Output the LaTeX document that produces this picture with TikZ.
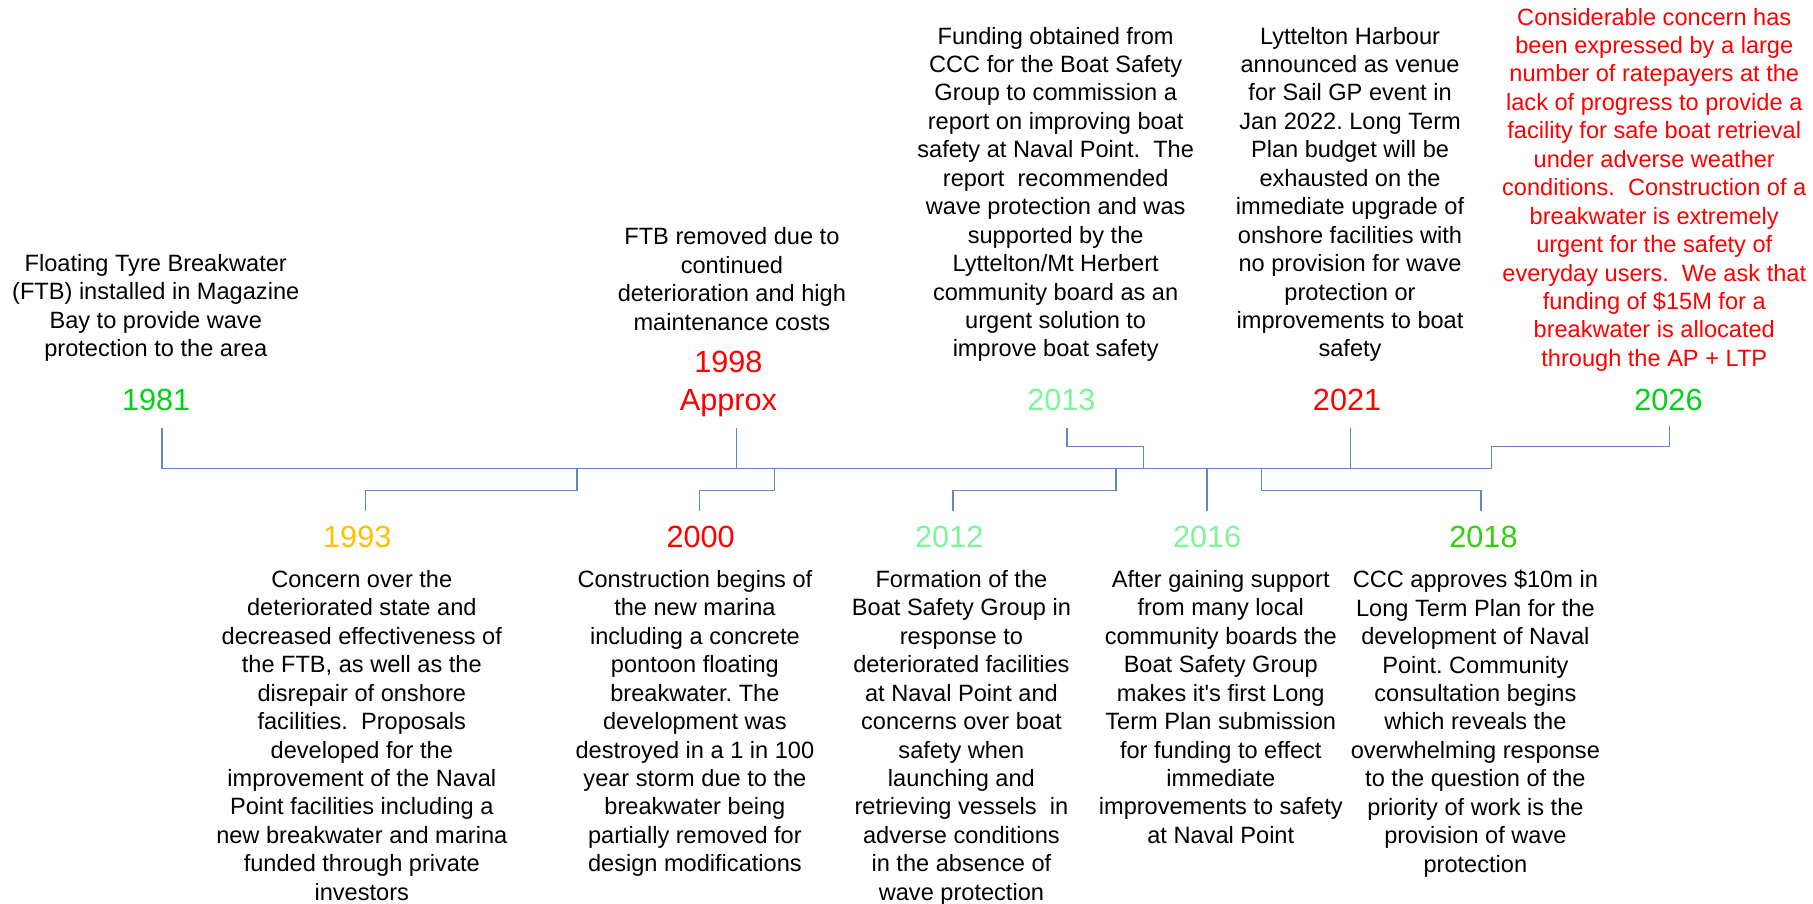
\documentclass[tikz,border=0pt]{standalone}
\usepackage{fontspec}
\setmainfont{Liberation Sans}
\usepackage{xcolor}
\usepackage{tikz}
\definecolor{axis}{HTML}{5E88C0}
\definecolor{hot}{HTML}{FF0000}
\definecolor{grn}{HTML}{00D21A}
\definecolor{lime}{HTML}{33D00A}
\definecolor{mint}{HTML}{7EF59A}
\definecolor{gold}{HTML}{FFC000}
\tikzset{
  tl/.style={draw=axis, line width=1.3pt, line cap=butt, line join=miter},
  yr/.style={font=\fontsize{26.5}{33}\selectfont, inner sep=0pt},
  txt/.style={font=\fontsize{20.4}{24.6}\selectfont, align=center, inner sep=0pt, anchor=north},
}
\frenchspacing
\begin{document}
\begin{tikzpicture}[x=1pt,y=-1pt]
  \fill[white] (0,0) rectangle (1568,781);
  \useasboundingbox (0,0) rectangle (1568,781);
  % top ends, bottom ends and points on the main line
  \coordinate (a1981) at (140,370);
  \coordinate (m1981) at (140,405);
  \coordinate (k2026) at (1290,386);
  \coordinate (a2026) at (1444,368);
  \coordinate (m1993) at (499,405);
  \coordinate (a1993) at (316,442);
  \coordinate (a1998) at (637,370);
  \coordinate (m1998) at (637,405);
  \coordinate (m2000) at (670,405);
  \coordinate (a2000) at (605,442);
  \coordinate (a2013) at (923,370);
  \coordinate (m2013) at (989,405);
  \coordinate (m2012) at (965,405);
  \coordinate (a2012) at (824,442);
  \coordinate (m2016) at (1044,405);
  \coordinate (a2016) at (1044,442);
  \coordinate (a2021) at (1168,370);
  \coordinate (m2021) at (1168,405);
  \coordinate (m2018) at (1091,405);
  \coordinate (a2018) at (1281,442);
  \draw[tl] (a1981) -- (m1981) -| (k2026) -| (a2026);
  \draw[tl] (m1993) -- ++(0,19) -| (a1993);
  \draw[tl] (a1998) -- (m1998);
  \draw[tl] (m2000) -- ++(0,19) -| (a2000);
  \draw[tl] (a2013) -- ++(0,16) -| (m2013);
  \draw[tl] (m2012) -- ++(0,19) -| (a2012);
  \draw[tl] (m2016) -- (a2016);
  \draw[tl] (a2021) -- (m2021);
  \draw[tl] (m2018) -- ++(0,19) -| (a2018);
  % years
  \node[yr, text=grn] (y1981) at (135,346) {1981};
  \node[yr, text=hot, align=center, anchor=north] (y1998) at (630,303.5) {1998\\Approx};
  \node[yr, text=mint] (y2013) at (918,346) {2013};
  \node[yr, text=hot] (y2021) at (1165,346) {2021};
  \node[yr, text=grn] (y2026) at (1443,346) {2026};
  \node[yr, text=gold] (y1993) at (309,464) {1993};
  \node[yr, text=hot] (y2000) at (606,464) {2000};
  \node[yr, text=mint] (y2012) at (821,464) {2012};
  \node[yr, text=mint] (y2016) at (1044,464) {2016};
  \node[yr, text=lime] (y2018) at (1283,464) {2018};
  % events above the line
  \node[txt] (t1981) at (134.7,219.8) {Floating Tyre Breakwater\\(FTB) installed in Magazine\\Bay to provide wave\\protection to the area};
  \node[txt] (t1998) at (633,196.8) {FTB removed due to\\continued\\deterioration and high\\maintenance costs};
  \node[txt] (t2013) at (913,23.1) {Funding obtained from\\CCC for the Boat Safety\\Group to commission a\\report on improving boat\\safety at Naval Point.\ \ The\\report\ \ recommended\\wave protection and was\\supported by the\\Lyttelton/Mt Herbert\\community board as an\\urgent solution to\\improve boat safety};
  \node[txt] (t2021) at (1167.6,23.1) {Lyttelton Harbour\\announced as venue\\for Sail GP event in\\Jan 2022. Long Term\\Plan budget will be\\exhausted on the\\immediate upgrade of\\onshore facilities with\\no provision for wave\\protection or\\improvements to boat\\safety};
  \node[txt, text=hot] (t2026) at (1430.7,6.7) {Considerable concern has\\been expressed by a large\\number of ratepayers at the\\lack of progress to provide a\\facility for safe boat retrieval\\under adverse weather\\conditions.\ \ Construction of a\\breakwater is extremely\\urgent for the safety of\\everyday users.\ \ We ask that\\funding of \$15M for a\\breakwater is allocated\\through the AP + LTP};
  % events below the line
  \node[txt] (t1993) at (312.9,493) {Concern over the\\deteriorated state and\\decreased effectiveness of\\the FTB, as well as the\\disrepair of onshore\\facilities.\ \ Proposals\\developed for the\\improvement of the Naval\\Point facilities including a\\new breakwater and marina\\funded through private\\investors};
  \node[txt] (t2000) at (601,493) {Construction begins of\\the new marina\\including a concrete\\pontoon floating\\breakwater. The\\development was\\destroyed in a 1 in 100\\year storm due to the\\breakwater being\\partially removed for\\design modifications};
  \node[txt] (t2012) at (831.5,493) {Formation of the\\Boat Safety Group in\\response to\\deteriorated facilities\\at Naval Point and\\concerns over boat\\safety when\\launching and\\retrieving vessels\ \ in\\adverse conditions\\in the absence of\\wave protection};
  \node[txt] (t2016) at (1055.8,493) {After gaining support\\from many local\\community boards the\\Boat Safety Group\\makes it\textquotesingle s first Long\\Term Plan submission\\for funding to effect\\immediate\\improvements to safety\\at Naval Point};
  \node[txt] (t2018) at (1276,493) {CCC approves \$10m in\\Long Term Plan for the\\development of Naval\\Point. Community\\consultation begins\\which reveals the\\overwhelming response\\to the question of the\\priority of work is the\\provision of wave\\protection};
\end{tikzpicture}
\end{document}
